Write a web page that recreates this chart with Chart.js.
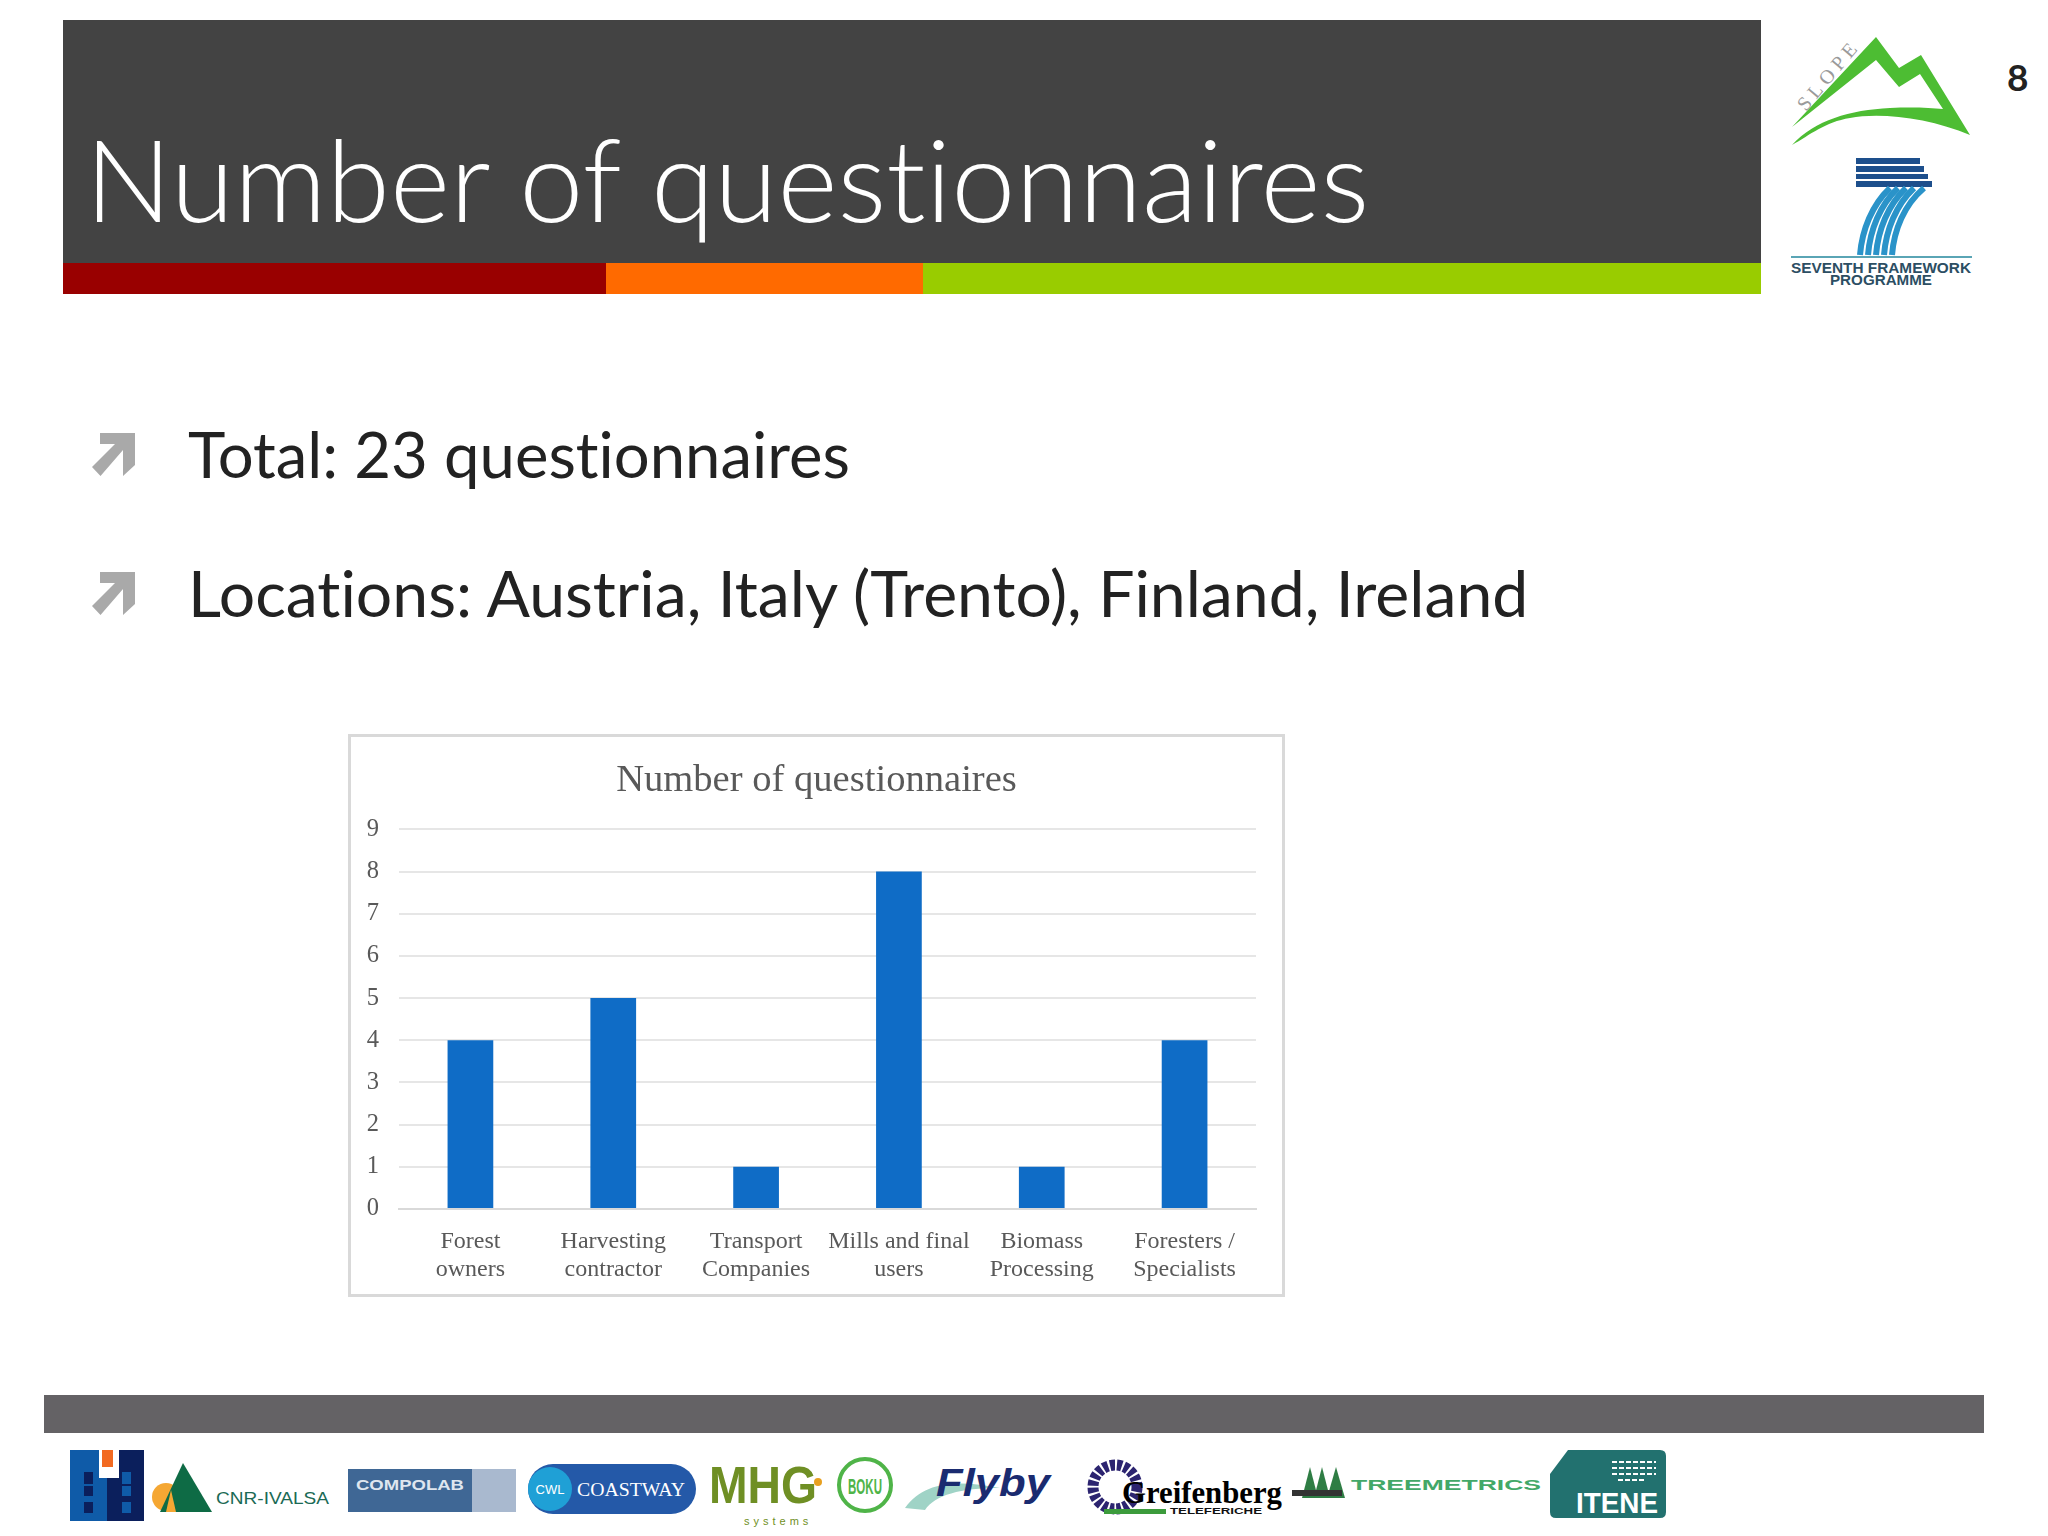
<!DOCTYPE html>
<html lang="en">
<head>
<meta charset="UTF-8">
<title>Number of questionnaires</title>
<script src="https://cdn.jsdelivr.net/npm/chart.js"></script>
<style>
    html, body { margin: 0; background: #fff; }
    #page { position: relative; width: 2048px; height: 1536px; overflow: hidden; font-family: Lato, sans-serif; font-variant-ligatures: none; }
    .block { position: absolute; }
    .txt { position: absolute; white-space: nowrap; line-height: 1; }
    #art { position: absolute; left: 0; top: 0; }
    #frame { position: absolute; left: 348px; top: 734px; width: 931px; height: 557px; border: 3px solid #d9d9d9; background: #fff; }
    #deviceChart { position: absolute; left: 348px; top: 734px; }
</style>
</head>
<body>
<div id="page">
    <!-- header -->
    <div class="block" style="left:63px;top:20px;width:1698px;height:243px;background:#434343"></div>
    <div class="block" style="left:63px;top:263px;width:543px;height:31px;background:#990000"></div>
    <div class="block" style="left:606px;top:263px;width:317px;height:31px;background:#ff6a00"></div>
    <div class="block" style="left:923px;top:263px;width:838px;height:31px;background:#99cc00"></div>
    <div class="txt" id="head" style="left:85px;top:120px;font-size:115px;font-weight:300;color:#fff">Number of questionnaires</div>
    <div class="txt" style="left:2007px;top:58px;font-size:37px;font-weight:700;color:#222">8</div>

    <!-- bullets -->
    <div class="txt" style="left:188px;top:422px;font-size:63.400px;color:#222">Total: 23 questionnaires</div>
    <div class="txt" style="left:188px;top:561px;font-size:64.300px;color:#222">Locations: Austria, Italy (Trento), Finland, Ireland</div>

    <!-- footer band -->
    <div class="block" style="left:44px;top:1395px;width:1940px;height:38px;background:#646265"></div>

    <svg id="art" width="2048" height="1536" viewBox="0 0 2048 1536">
        <!-- bullet arrows -->
        <path id="arrow" fill="#a9a9a9" d="M100 433H135V465L123 476V450L100.500 476L92 467L115 444H100Z"/>
        <use href="#arrow" y="139"/>

        <!-- SLOPE logo -->
        <path fill="#4dbd33" d="M1792 127L1876 37L1899 68L1921 55L1970 135C1930 118 1880 112 1850 118C1825 122 1810 135 1792 145C1815 120 1850 110 1890 108C1915 107 1930 108 1943 109L1920 74L1899 87L1876 60Z"/>
        <text transform="translate(1806 112) rotate(-50)" font-family="Liberation Serif" font-size="20" letter-spacing="5" fill="#9a9a9a">SLOPE</text>

        <!-- FP7 logo -->
        <g fill="#1d4f8c">
            <rect x="1856" y="158" width="64" height="6"/>
            <rect x="1856" y="166" width="68" height="6"/>
            <rect x="1856" y="174" width="72" height="5"/>
            <rect x="1856" y="181" width="76" height="6"/>
        </g>
        <g fill="none" stroke="#2a93c9" stroke-width="6">
            <path d="M1860 255C1862 230 1872 205 1890 188"/>
            <path d="M1868 255C1870 230 1880 205 1898 188"/>
            <path d="M1876 255C1878 230 1888 205 1906 188"/>
            <path d="M1884 255C1886 230 1896 205 1914 188"/>
            <path d="M1892 255C1894 230 1904 205 1924 188"/>
        </g>
        <rect x="1791" y="256" width="181" height="2" fill="#5aa5b5"/>
        <text x="1881" y="273" text-anchor="middle" font-family="Liberation Sans" font-weight="700" font-size="15" fill="#2c4e63" textLength="180" lengthAdjust="spacingAndGlyphs">SEVENTH FRAMEWORK</text>
        <text x="1881" y="285" text-anchor="middle" font-family="Liberation Sans" font-weight="700" font-size="14" fill="#2c4e63" textLength="102" lengthAdjust="spacingAndGlyphs">PROGRAMME</text>

        <!-- partner logos -->
        <rect x="70" y="1450" width="37" height="71" fill="#0f5ba8"/>
        <rect x="107" y="1450" width="37" height="71" fill="#0b1f5c"/>
        <rect x="99" y="1450" width="20" height="28" fill="#fff"/>
        <rect x="102" y="1450" width="11" height="17" fill="#f26a21"/>
        <g fill="#0b1f5c">
            <rect x="84" y="1472" width="9" height="12"/><rect x="84" y="1486" width="9" height="10"/><rect x="84" y="1502" width="9" height="11"/>
        </g>
        <g fill="#0f5ba8">
            <rect x="122" y="1472" width="9" height="12"/><rect x="122" y="1486" width="9" height="10"/><rect x="122" y="1502" width="9" height="11"/>
        </g>
        <circle cx="166" cy="1497" r="14" fill="#f5a733"/>
        <path fill="#0e6b45" d="M183 1463L212 1512H160Z"/>
        <path fill="#f5a733" d="M166 1512L171 1490L176 1512Z"/>
        <text x="216" y="1504" font-family="Liberation Sans" font-size="17" fill="#1b6a55" textLength="113" lengthAdjust="spacingAndGlyphs">CNR-IVALSA</text>

        <rect x="348" y="1469" width="124" height="43" fill="#3f6795"/>
        <rect x="472" y="1469" width="44" height="43" fill="#a9b9cf"/>
        <text x="410" y="1490" text-anchor="middle" font-family="Liberation Sans" font-weight="700" font-size="14" fill="#dfe6ef" textLength="108" lengthAdjust="spacingAndGlyphs">COMPOLAB</text>

        <rect x="528" y="1464" width="168" height="50" rx="25" fill="#2459a8"/>
        <circle cx="550" cy="1489" r="22" fill="#1fa0d6"/>
        <text x="550" y="1494" text-anchor="middle" font-family="Liberation Sans" font-size="13" fill="#fff">CWL</text>
        <text x="577" y="1496" font-family="Liberation Serif" font-size="19" fill="#fff" textLength="108" lengthAdjust="spacingAndGlyphs">COASTWAY</text>

        <text x="709" y="1503" font-family="Liberation Sans" font-weight="700" font-size="52" fill="#6f8f24" textLength="108" lengthAdjust="spacingAndGlyphs">MHG</text>
        <circle cx="818" cy="1482" r="4" fill="#e8a020"/>
        <text x="744" y="1525" font-family="Liberation Sans" font-size="11" letter-spacing="4" fill="#6f8f24">systems</text>

        <ellipse cx="865" cy="1485" rx="26" ry="26" fill="#fff" stroke="#4fb448" stroke-width="4"/>
        <text x="865" y="1494" text-anchor="middle" font-family="Liberation Sans" font-weight="700" font-size="22" fill="#4fb448" textLength="34" lengthAdjust="spacingAndGlyphs">BOKU</text>

        <path d="M905 1508C925 1480 960 1480 1000 1488C960 1488 935 1495 925 1510Z" fill="#9fd3c6"/>
        <text x="936" y="1496" font-family="Liberation Sans" font-weight="700" font-style="italic" font-size="38" fill="#1a2b70" textLength="114" lengthAdjust="spacingAndGlyphs">Flyby</text>

        <circle cx="1115" cy="1487" r="22" fill="none" stroke="#2c2470" stroke-width="11" stroke-dasharray="5 2"/>
        <text x="1122" y="1503" font-family="Liberation Serif" font-weight="700" font-size="32" fill="#000" textLength="160" lengthAdjust="spacingAndGlyphs">Greifenberg</text>
        <rect x="1104" y="1509" width="62" height="5" fill="#3c9b3c"/>
        <text x="1170" y="1514" font-family="Liberation Sans" font-weight="700" font-size="9" fill="#111" textLength="92" lengthAdjust="spacingAndGlyphs">TELEFERICHE</text>

        <g fill="#2f7d44">
            <path d="M1310 1467L1318 1498H1302Z"/><path d="M1322 1467L1330 1498H1314Z"/><path d="M1336 1467L1345 1498H1327Z"/>
        </g>
        <rect x="1292" y="1490" width="50" height="6" fill="#333"/>
        <text x="1351" y="1490" font-family="Liberation Sans" font-weight="700" font-size="15" fill="#43a868" textLength="190" lengthAdjust="spacingAndGlyphs">TREEMETRICS</text>

        <path fill="#22716f" d="M1568 1450H1660Q1666 1450 1666 1456V1512Q1666 1518 1660 1518H1556Q1550 1518 1550 1512V1474Z"/>
        <g fill="none" stroke="#fff" stroke-width="2" stroke-dasharray="5 2">
            <path d="M1612 1462H1656"/><path d="M1612 1468H1656"/><path d="M1612 1474H1656"/><path d="M1618 1480H1646"/>
        </g>
        <text x="1576" y="1513" font-family="Liberation Sans" font-weight="700" font-size="29" fill="#fff" textLength="82" lengthAdjust="spacingAndGlyphs">ITENE</text>
    </svg>

    <!-- chart frame and chart -->
    <div id="frame"></div>
    <canvas id="deviceChart" width="937" height="563"></canvas>
</div>

<script>
    const categories = [
        ['Forest', 'owners'],
        ['Harvesting', 'contractor'],
        ['Transport', 'Companies'],
        ['Mills and final', 'users'],
        ['Biomass', 'Processing'],
        ['Foresters /', 'Specialists']
    ];
    const questionnaires = [4, 5, 1, 8, 1, 4];
    const chartTitle = 'Number of questionnaires';
    const yMax = 9;

    const ctx = document.getElementById('deviceChart').getContext('2d');
    new Chart(ctx, {
        type: 'bar',
        data: {
            labels: categories,
            datasets: [{
                label: chartTitle,
                data: questionnaires,
                backgroundColor: '#0f6cc6',
                categoryPercentage: 1,
                barPercentage: 0.32
            }]
        },
        options: {
            responsive: false,
            animation: false,
            layout: { padding: { top: 24, right: 0, bottom: 0, left: 0 } },
            plugins: {
                legend: { display: false },
                tooltip: { enabled: false },
                title: {
                    display: true,
                    text: chartTitle,
                    color: '#595959',
                    font: { family: 'Liberation Serif', size: 38.600, weight: 'normal' },
                    padding: { top: 0, bottom: 25 }
                }
            },
            scales: {
                x: {
                    grid: { display: false },
                    border: { color: '#d9d9d9', width: 2 },
                    afterFit: s => { s.height = 88; },
                    ticks: {
                        color: '#595959',
                        maxRotation: 0,
                        autoSkip: false,
                        padding: 10,
                        font: { family: 'Liberation Serif', size: 24 }
                    }
                },
                y: {
                    min: 0,
                    max: yMax,
                    afterFit: s => { s.width = 51; },
                    grid: { color: '#e6e6e6', lineWidth: 2, drawTicks: false },
                    border: { display: false },
                    ticks: {
                        stepSize: 1,
                        color: '#595959',
                        padding: 20,
                        font: { family: 'Liberation Serif', size: 24.500 }
                    }
                },
                // empty axis, keeps the plot off the right edge so the title stays centred in the box
                spacer: {
                    axis: 'y',
                    position: 'right',
                    grid: { display: false, drawOnChartArea: false },
                    border: { display: false },
                    ticks: { display: false },
                    afterFit: s => { s.width = 29; }
                }
            }
        }
    });
</script>
</body>
</html>
